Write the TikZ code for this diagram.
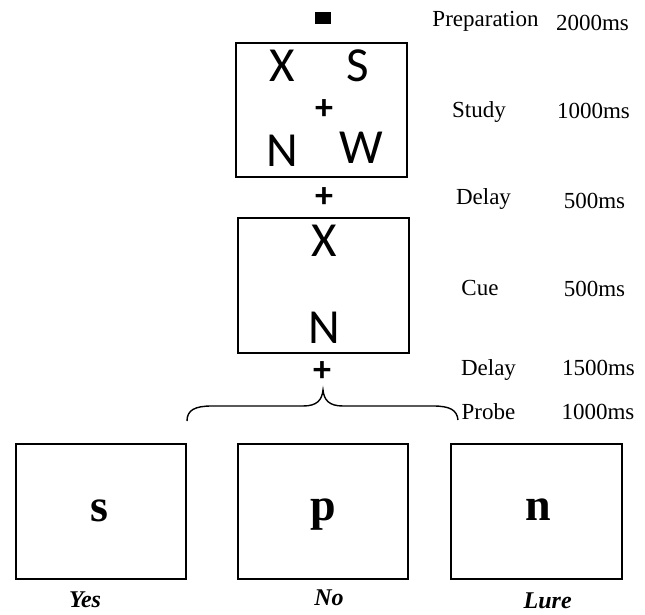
\documentclass[tikz,border=0pt]{standalone}
\usepackage{fontspec}
\setmainfont{Liberation Serif}
\newfontfamily\letterfont{Carlito}
\begin{document}
\begin{tikzpicture}[x=1pt,y=-1pt,
  frame/.style={draw=black,line width=1.6pt},
  lbl/.style={anchor=base,inner sep=0pt,font=\fontsize{23}{23}\selectfont},
  big/.style={anchor=base,inner sep=0pt,font=\letterfont\fontsize{49}{49}\selectfont},
  plus/.style={anchor=center,inner sep=0pt,font=\letterfont\bfseries\fontsize{36}{36}\selectfont},
  probe/.style={anchor=base,inner sep=0pt,font=\bfseries\fontsize{46}{46}\selectfont},
  resp/.style={anchor=base,inner sep=0pt,font=\bfseries\itshape\fontsize{24}{24}\selectfont}]
\useasboundingbox (0,0) rectangle (645,615);
% preparation square
\fill[black] (315,12) rectangle (331,24);
% study box
\draw[frame] (236,43) rectangle (407,177);
\node[big] (x1) at (282,81.7) {X};
\node[big] (s1) at (358,81.7) {S};
\node[big] (n1) at (282,166.7) {N};
\node[big] (w1) at (361,164) {W};
\node[plus] (p0) at (324,110) {+};
% delay
\node[plus] (p1) at (324,198) {+};
% cue box
\draw[frame] (238,218) rectangle (409,353);
\node[big] (x2) at (324,256.7) {X};
\node[big] (n2) at (324,343.3) {N};
% delay 2
\node[plus] (p2) at (322,372) {+};
% brace
\draw[line width=1.4pt] (187,421) .. controls (187,410) and (195,406) .. (212,406)
  -- (303,406) .. controls (317,406) and (322,400) .. (323,390)
  .. controls (324,400) and (329,406) .. (343,406)
  -- (433,406) .. controls (450,406) and (457,410) .. (458,420);
% probe boxes
\draw[frame] (16,444) rectangle (186,579);
\draw[frame] (238,444) rectangle (408,579);
\draw[frame] (451,444) rectangle (622,579);
\node[probe] (ps) at (99.3,521) {s};
\node[probe] (pp) at (323.3,520) {p};
\node[probe] (pn) at (538.3,520) {n};
\node[resp] (yes) at (85,607) {Yes};
\node[resp] (no) at (329,605) {No};
\node[resp] (lure) at (547.7,608) {Lure};
% labels
\node[lbl] (l1) at (485.5,26.7) {Preparation};
\node[lbl] (t1) at (592.5,30.7) {2000ms};
\node[lbl] (l2) at (479,117.3) {Study};
\node[lbl] (t2) at (593.5,118.3) {1000ms};
\node[lbl] (l3) at (483.5,204) {Delay};
\node[lbl] (t3) at (594.5,208.3) {500ms};
\node[lbl] (l4) at (480,295) {Cue};
\node[lbl] (t4) at (594.5,296) {500ms};
\node[lbl] (l5) at (488.5,375) {Delay};
\node[lbl] (t5) at (598.5,375) {1500ms};
\node[lbl] (l6) at (488.5,419.3) {Probe};
\node[lbl] (t6) at (598,419.3) {1000ms};
\end{tikzpicture}
\end{document}
